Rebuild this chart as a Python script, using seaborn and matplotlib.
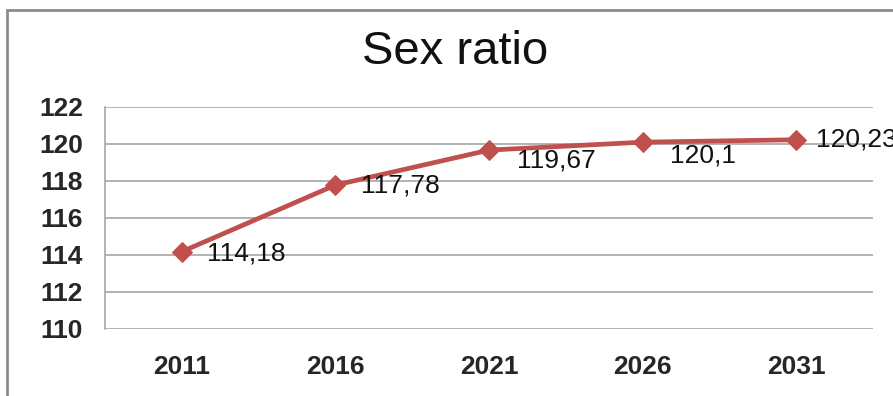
import matplotlib
matplotlib.use("Agg")
import matplotlib.pyplot as plt
import seaborn as sns
import pandas as pd
from matplotlib.patches import Rectangle

years = ["2011", "2016", "2021", "2026", "2031"]
sex_ratio = [114.18, 117.78, 119.67, 120.1, 120.23]
value_labels = ["114,18", "117,78", "119,67", "120,1", "120,23"]
y_ticks = [110, 112, 114, 116, 118, 120, 122]

# label placement relative to each point (pixels)
label_offsets = [(25, -2), (26, 0), (28, -10), (27, -13), (20, 0)]

sns.set_theme(style="white")
plt.rcParams["font.family"] = ["Liberation Sans", "DejaVu Sans"]

df = pd.DataFrame({"year": years, "ratio": sex_ratio})

fig = plt.figure(figsize=(8.93, 3.96), dpi=100)
W, H = 893, 396
ax = fig.add_axes([105 / W, 1 - 329 / H, 768 / W, 222 / H])

line_color = "#C0504D"
sns.lineplot(data=df, x="year", y="ratio", ax=ax, color=line_color,
             linewidth=3.4, marker="D", markersize=10.5,
             markeredgecolor=line_color, sort=False, zorder=3)

ax.set_xlim(-0.5, len(years) - 0.5)
ax.set_ylim(y_ticks[0], y_ticks[-1])
ax.set_yticks(y_ticks)
ax.set_yticklabels([str(t) for t in y_ticks], fontsize=19, fontweight="bold")
ax.set_xticks(range(len(years)))
ax.set_xticklabels(years, fontsize=19, fontweight="bold")
ax.tick_params(axis="x", length=0, pad=19)
ax.tick_params(axis="y", length=0, pad=16)
ax.set_xlabel("")
ax.set_ylabel("")

ax.yaxis.grid(True, color="#A6A6A6", linewidth=1.2)
ax.set_axisbelow(True)
for side in ["top", "right", "bottom"]:
    ax.spines[side].set_visible(False)
ax.spines["left"].set_color("#A6A6A6")
ax.spines["left"].set_linewidth(1.2)

for i, (v, txt) in enumerate(zip(sex_ratio, value_labels)):
    dx, dy = label_offsets[i]
    ax.annotate(txt, (i, v), xytext=(dx, dy), textcoords="offset pixels",
                ha="left", va="center", fontsize=19, color="#111111",
                annotation_clip=False, zorder=4)

fig.text(455 / W, 1 - 52 / H, "Sex ratio", ha="center", va="center",
         fontsize=34, color="#111111")

# outer chart-area frame
fig.patches.append(Rectangle((7 / W, -0.2), 1.2, 1 - 10 / H + 0.2,
                             transform=fig.transFigure, fill=False,
                             edgecolor="#8C8C8C", linewidth=2))

fig.savefig("out.png", dpi=100)
